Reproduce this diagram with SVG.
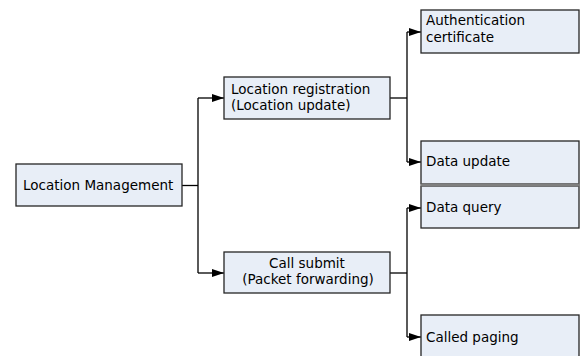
<svg xmlns="http://www.w3.org/2000/svg" width="580" height="356" viewBox="0 0 580 356">
<defs>
<style>
.box{fill:#e8eef7;stroke:#262626;stroke-width:1.3}
.t{font-family:"DejaVu Sans",Verdana,sans-serif;font-size:13.5px;fill:#000}
.c{fill:none;stroke:#000;stroke-width:1.3}
</style>
<marker id="ah" markerWidth="12" markerHeight="8" refX="12" refY="4" orient="auto" markerUnits="userSpaceOnUse">
<path d="M0,0 L12,4 L0,8 Z" fill="#000"/>
</marker>
</defs>
<rect width="580" height="356" fill="#fff"/>
<g id="connectors">
<path class="c" d="M182,185.5 H198"/>
<path class="c" d="M198,98 V273"/>
<path class="c" d="M198,98 H224" marker-end="url(#ah)"/>
<path class="c" d="M198,273 H224" marker-end="url(#ah)"/>
<path class="c" d="M390,98 H407"/>
<path class="c" d="M407,32 V162"/>
<path class="c" d="M407,32 H421" marker-end="url(#ah)"/>
<path class="c" d="M407,162 H421" marker-end="url(#ah)"/>
<path class="c" d="M390,273 H407"/>
<path class="c" d="M407,208 V337"/>
<path class="c" d="M407,208 H421" marker-end="url(#ah)"/>
<path class="c" d="M407,337 H421" marker-end="url(#ah)"/>
</g>
<g id="location-management">
<rect class="box" x="16" y="164" width="166" height="42"/>
<text class="t" x="23" y="189.5">Location Management</text>
</g>
<g id="location-registration">
<rect class="box" x="224" y="77" width="166" height="42"/>
<text class="t" x="231" y="93.5">Location registration</text>
<text class="t" x="231" y="110">(Location update)</text>
</g>
<g id="call-submit">
<rect class="box" x="224" y="252" width="166" height="41"/>
<text class="t" x="307" y="267.5" text-anchor="middle">Call submit</text>
<text class="t" x="308" y="284.3" text-anchor="middle">(Packet forwarding)</text>
</g>
<g id="authentication-certificate">
<rect class="box" x="421" y="10" width="158" height="43"/>
<text class="t" x="426" y="25">Authentication</text>
<text class="t" x="426" y="41.7">certificate</text>
</g>
<g id="data-update">
<rect class="box" x="421" y="141" width="158" height="43"/>
<text class="t" x="426" y="166">Data update</text>
</g>
<g id="data-query">
<rect class="box" x="421" y="186" width="158" height="42"/>
<text class="t" x="426" y="211.7">Data query</text>
</g>
<rect x="421" y="183.5" width="159" height="3" fill="#808080"/>
<g id="called-paging">
<rect class="box" x="421" y="315" width="158" height="50"/>
<text class="t" x="426" y="341.7">Called paging</text>
</g>
</svg>
